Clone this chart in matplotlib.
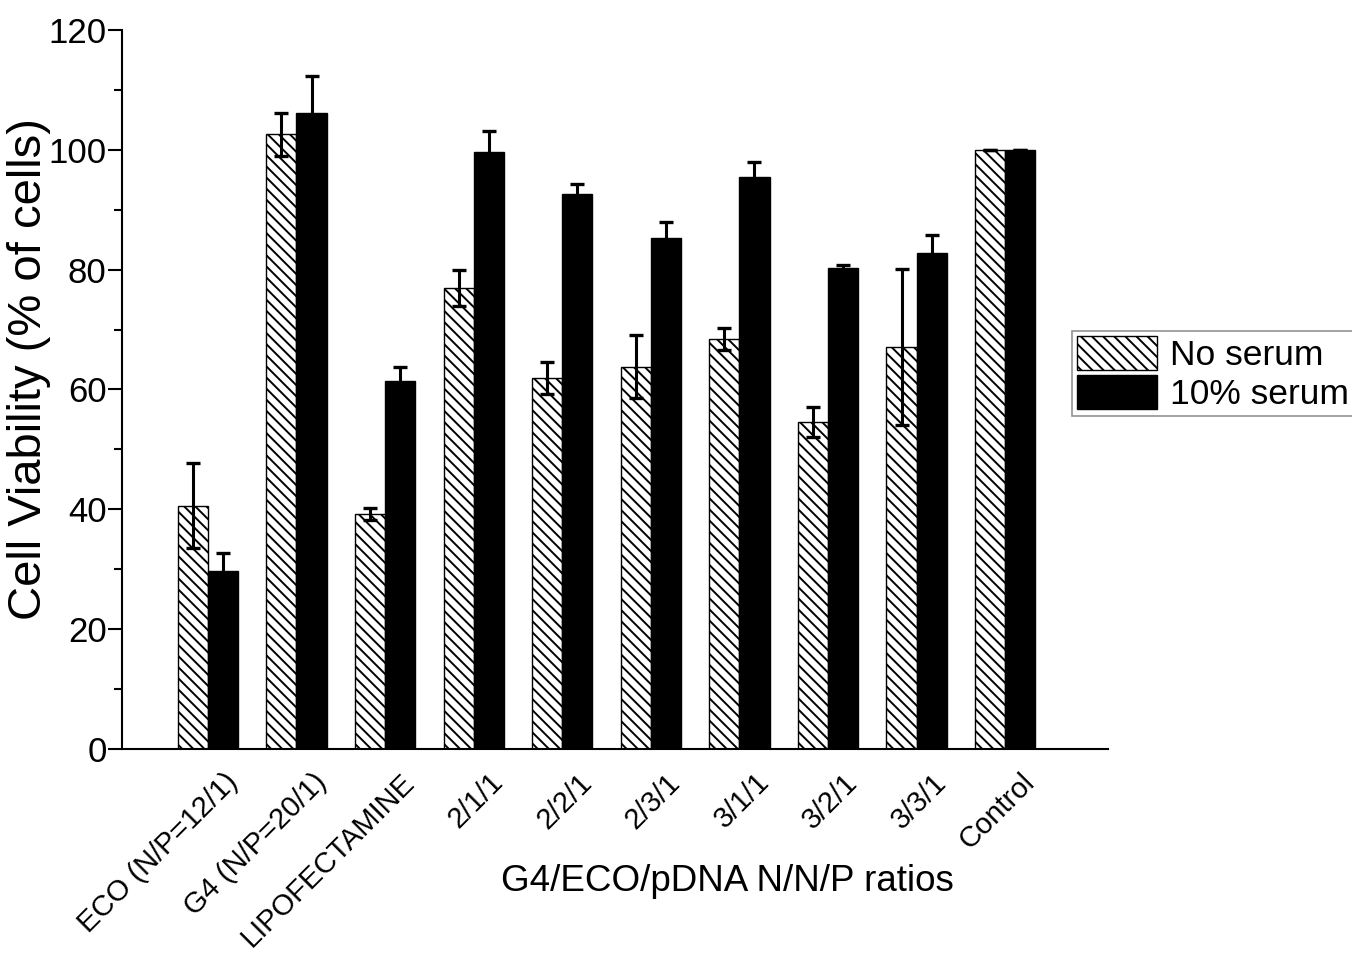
import matplotlib
matplotlib.use('Agg')
import matplotlib.pyplot as plt
import matplotlib.transforms as mtransforms
from matplotlib.ticker import MultipleLocator
import numpy as np

groups = ['ECO (N/P=12/1)', 'G4 (N/P=20/1)', 'LIPOFECTAMINE', '2/1/1', '2/2/1',
          '2/3/1', '3/1/1', '3/2/1', '3/3/1', 'Control']
no_serum = [40.6, 102.6, 39.2, 77.0, 61.9, 63.8, 68.4, 54.5, 67.1, 100.0]
no_serum_err = [7.1, 3.6, 1.0, 3.0, 2.7, 5.3, 1.8, 2.5, 13.0, 0.0]
serum = [29.7, 106.1, 61.4, 99.7, 92.6, 85.2, 95.4, 80.2, 82.8, 100.0]
serum_err = [3.0, 6.3, 2.3, 3.5, 1.7, 2.7, 2.6, 0.5, 3.0, 0.0]

plt.rcParams['font.family'] = ['Liberation Sans', 'DejaVu Sans']
plt.rcParams['hatch.linewidth'] = 1.4

fig = plt.figure(figsize=(13.52, 9.58), dpi=100)
ax = fig.add_axes([0.0902, 0.2182, 0.7293, 0.7505])

x = np.arange(len(groups))
w = 0.34
errkw = dict(ecolor='black', elinewidth=2.2, capsize=5, capthick=2.4)

ax.bar(x - w/2, no_serum, w, yerr=no_serum_err, color='white', edgecolor='black',
       hatch='\\\\\\', linewidth=1.0, error_kw=errkw, label='No serum')
ax.bar(x + w/2, serum, w, yerr=serum_err, color='black', edgecolor='black',
       linewidth=1.0, error_kw=errkw, label='10% serum')

ax.set_xlim(-0.97, 10.16)
ax.set_ylim(0, 120)
ax.yaxis.set_major_locator(MultipleLocator(20))
ax.yaxis.set_minor_locator(MultipleLocator(10))
ax.tick_params(axis='y', which='major', length=10, width=1.5, labelsize=25, pad=1, direction='out')
ax.tick_params(axis='y', which='minor', length=5.5, width=1.5, direction='out')
ax.tick_params(axis='x', length=0, labelsize=21, pad=25)
ax.set_xticks(x)
ax.set_xticklabels(groups, rotation=45, ha='right', va='baseline', rotation_mode='anchor')
# shift the rotated labels a little to the right, like the original
shift = mtransforms.ScaledTranslation(0.31, 0, fig.dpi_scale_trans)
for lab in ax.get_xticklabels():
    lab.set_transform(lab.get_transform() + shift)

for s in ['top', 'right']:
    ax.spines[s].set_visible(False)
for s in ['left', 'bottom']:
    ax.spines[s].set_linewidth(1.5)

ax.set_ylabel('Cell Viability (% of cells)', fontsize=34)
ax.yaxis.set_label_coords(-0.072, 0.528)
ax.set_xlabel('G4/ECO/pDNA N/N/P ratios', fontsize=26.5)
ax.xaxis.set_label_coords(0.614, -0.16)

leg = ax.legend(loc='center left', bbox_to_anchor=(0.793, 0.610), bbox_transform=fig.transFigure,
                fontsize=25.5, frameon=True, fancybox=False, handlelength=2.25, handleheight=1.08,
                handletextpad=0.35, borderpad=0.15, labelspacing=0.08, borderaxespad=0)
leg.get_frame().set_edgecolor('#777777')
leg.get_frame().set_linewidth(1.2)

fig.savefig('out.png', dpi=100)
